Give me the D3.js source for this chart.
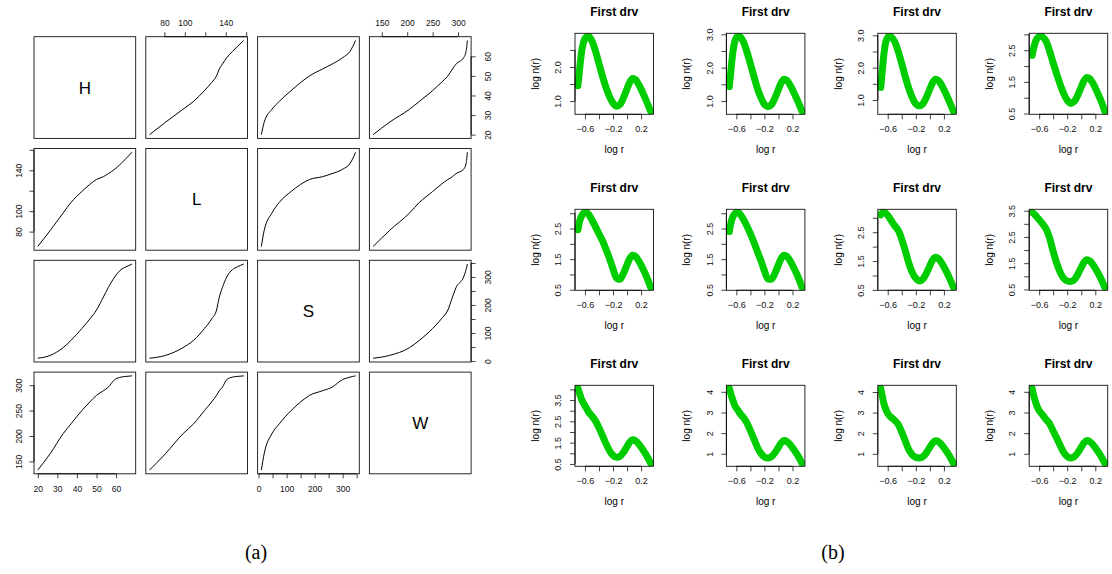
<!DOCTYPE html>
<html>
<head>
<meta charset="utf-8">
<script src="https://cdn.jsdelivr.net/npm/d3@7"></script>
<style>
  body { margin: 0; background: #fff; }
  text { font-family: "Liberation Sans", Arial, Helvetica, sans-serif; }
  text.caption { font-family: "Liberation Serif", "DejaVu Serif", serif; }
</style>
</head>
<body>
<div id="chart"></div>
<script>
// ---- (a) pairs plot: matched quantiles of the four variables ----
var varNames = ["H", "L", "S", "W"]
var hVals = [20.0, 26.3, 33.0, 37.0, 42.5, 46.6, 50.0, 53.5, 56.0, 59.3, 62.5, 65.0, 68.1]
var lVals = [65.5, 81.0, 98.3, 108.6, 119.2, 126.2, 131.0, 133.7, 136.7, 141.0, 146.5, 151.3, 157.6]
var sVals = [10, 20, 48, 74, 116, 150, 182, 228, 262, 300, 326, 336, 346]
var wVals = [133, 165, 204.7, 224, 250, 267, 280, 289, 296, 311, 315.8, 317.2, 318.3]

var hTicks = [20, 30, 40, 50, 60], hLabels = [20, 30, 40, 50, 60]
var lTicks = [80, 100, 120, 140, 160], lLabels = [80, 100, 140]
var sTicks = [0, 50, 100, 150, 200, 250, 300, 350], sLabels = [0, 100, 200, 300]
var wTicks = [150, 200, 250, 300], wLabels = [150, 200, 250, 300]

// ---- (b) "First drv" curves, log n(r) against log r ----
var logR = [-0.70, -0.68, -0.65, -0.62, -0.58, -0.55, -0.50, -0.45, -0.40, -0.35, -0.30, -0.25,
            -0.20, -0.15, -0.10, -0.05, 0.00, 0.04, 0.08, 0.12, 0.17, 0.22, 0.28, 0.335]
var fd1 = [1.45, 1.85, 2.40, 2.72, 2.88, 2.90, 2.76, 2.47, 2.10, 1.73, 1.40, 1.13, 0.94, 0.85, 0.90, 1.10, 1.36, 1.56, 1.66, 1.63, 1.47, 1.26, 0.98, 0.70]
var fd2 = [1.43, 1.85, 2.45, 2.80, 2.94, 2.93, 2.78, 2.48, 2.12, 1.74, 1.38, 1.10, 0.90, 0.83, 0.89, 1.09, 1.35, 1.55, 1.65, 1.62, 1.46, 1.25, 0.97, 0.69]
var fd3 = [1.39, 1.85, 2.50, 2.85, 2.97, 2.95, 2.80, 2.50, 2.12, 1.72, 1.36, 1.07, 0.88, 0.82, 0.88, 1.08, 1.34, 1.54, 1.64, 1.61, 1.45, 1.23, 0.94, 0.65]
var fd4 = [2.34, 2.55, 2.78, 2.90, 2.94, 2.92, 2.78, 2.47, 2.10, 1.75, 1.42, 1.13, 0.92, 0.82, 0.88, 1.08, 1.34, 1.54, 1.64, 1.60, 1.44, 1.21, 0.91, 0.57]
var fd5 = [2.46, 2.70, 2.90, 3.00, 3.03, 2.97, 2.78, 2.56, 2.33, 2.10, 1.82, 1.52, 1.18, 0.88, 0.84, 1.04, 1.32, 1.53, 1.63, 1.59, 1.43, 1.21, 0.91, 0.58]
var fd6 = [2.40, 2.66, 2.88, 2.99, 3.03, 2.98, 2.80, 2.58, 2.33, 2.05, 1.75, 1.45, 1.12, 0.85, 0.84, 1.04, 1.32, 1.53, 1.63, 1.59, 1.43, 1.21, 0.91, 0.58]
var fd7 = [3.10, 3.17, 3.19, 3.14, 3.02, 2.90, 2.72, 2.56, 2.25, 1.86, 1.43, 1.10, 0.90, 0.81, 0.87, 1.07, 1.34, 1.54, 1.63, 1.59, 1.43, 1.21, 0.91, 0.59]
var fd8 = [3.44, 3.40, 3.32, 3.22, 3.10, 3.00, 2.80, 2.45, 1.95, 1.50, 1.15, 0.92, 0.82, 0.80, 0.87, 1.07, 1.34, 1.54, 1.63, 1.59, 1.43, 1.21, 0.91, 0.58]
var fd9 = [4.05, 3.85, 3.55, 3.35, 3.12, 2.95, 2.75, 2.52, 2.20, 1.83, 1.45, 1.12, 0.90, 0.81, 0.86, 1.05, 1.32, 1.53, 1.63, 1.59, 1.42, 1.19, 0.88, 0.53]
var fd10 = [4.17, 3.92, 3.60, 3.32, 3.12, 2.96, 2.76, 2.50, 2.12, 1.72, 1.32, 1.02, 0.85, 0.80, 0.86, 1.05, 1.32, 1.53, 1.64, 1.60, 1.43, 1.20, 0.89, 0.54]
var fd11 = [4.18, 3.85, 3.38, 3.10, 2.87, 2.77, 2.62, 2.42, 2.05, 1.62, 1.20, 0.95, 0.83, 0.80, 0.86, 1.05, 1.32, 1.53, 1.64, 1.60, 1.43, 1.20, 0.89, 0.54]
var fd12 = [4.17, 3.85, 3.50, 3.22, 3.00, 2.88, 2.66, 2.45, 2.10, 1.76, 1.40, 1.07, 0.87, 0.80, 0.86, 1.05, 1.32, 1.53, 1.64, 1.60, 1.43, 1.20, 0.89, 0.54]

var xTicks = [-0.6, -0.4, -0.2, 0, 0.2], xLabels = [-0.6, -0.2, 0.2]
var ticksA = [1, 1.5, 2, 2.5], labelsA = [1, 2]
var ticksB = [1, 1.5, 2, 2.5, 3], labelsB = [1, 2, 3]
var ticksC = [0.5, 1, 1.5, 2, 2.5, 3], labelsC = [0.5, 1.5, 2.5]
var ticksD = [0.5, 1, 1.5, 2, 2.5, 3, 3.5], labelsD = [0.5, 1.5, 2.5, 3.5]
var ticksE = [0.5, 1, 1.5, 2, 2.5, 3, 3.5, 4], labelsE = [0.5, 1.5, 2.5, 3.5]
var ticksF = [1, 2, 3, 4], labelsF = [1, 2, 3, 4]

var curves = [fd1, fd2, fd3, fd4, fd5, fd6, fd7, fd8, fd9, fd10, fd11, fd12]
var yTickSets = [ticksA, ticksB, ticksB, ticksC, ticksC, ticksC, ticksC, ticksD, ticksE, ticksF, ticksF, ticksF]
var yLabelSets = [labelsA, labelsB, labelsB, labelsC, labelsC, labelsC, labelsC, labelsD, labelsE, labelsF, labelsF, labelsF]

var svg = d3.select("#chart").append("svg")
    .attr("width", 1112)
    .attr("height", 574)

// R-style scale: data range padded by 4% on both sides
function padScale(vals, range) {
  var e = d3.extent(vals), d = (e[1] - e[0]) * 0.04
  return d3.scaleLinear().domain([e[0] - d, e[1] + d]).range(range)
}

// axis with the line running only from first to last tick, labels parallel to the axis
function rAxis(g, side, scale, ticks, labels, fmt, tick, off, size) {
  var gen = {top: d3.axisTop, bottom: d3.axisBottom, left: d3.axisLeft, right: d3.axisRight}[side]
  g.call(gen(scale).tickValues(ticks).tickSizeInner(tick).tickSizeOuter(0)
      .tickFormat(function(d) { return labels.indexOf(d) >= 0 ? fmt(d) : "" }))
  g.attr("font-family", null).attr("font-size", size).attr("color", "#111")
  var a = scale(ticks[0]), b = scale(ticks[ticks.length - 1])
  g.select(".domain").attr("d", side == "top" || side == "bottom" ? "M" + a + ",0H" + b : "M0," + a + "V" + b)
  g.selectAll(".tick line").attr("stroke-width", 0.8)
  var t = g.selectAll(".tick text").attr("dy", "0.35em").attr("text-anchor", "middle")
  if (side == "top") t.attr("y", -off)
  if (side == "bottom") t.attr("y", off)
  if (side == "left") t.attr("x", 0).attr("y", -off).attr("transform", "rotate(-90)")
  if (side == "right") t.attr("x", 0).attr("y", off).attr("transform", "rotate(-90)")
}

// ---------- panel (a) ----------
var pairVals = [hVals, lVals, sVals, wVals]
var pairTicks = [hTicks, lTicks, sTicks, wTicks]
var pairLabels = [hLabels, lLabels, sLabels, wLabels]
var cell = 101.7, pitch = 111.8, ax0 = 34, ay0 = 36.7

var sx = pairVals.map(function(v, j) { return padScale(v, [ax0 + j * pitch, ax0 + j * pitch + cell]) })
var sy = pairVals.map(function(v, i) { return padScale(v, [ay0 + i * pitch + cell, ay0 + i * pitch]) })

var pairs = svg.append("g")
var intFmt = d3.format("d")

for (var i = 0; i < 4; i++) {
  for (var j = 0; j < 4; j++) {
    var x0 = ax0 + j * pitch, y0 = ay0 + i * pitch
    if (i == j) {
      pairs.append("text")
        .attr("x", x0 + cell / 2)
        .attr("y", y0 + cell / 2)
        .attr("dy", "0.35em")
        .attr("text-anchor", "middle")
        .attr("font-size", 17)
        .attr("fill", "#000")
        .text(varNames[i])
    } else {
      var pts = d3.range(hVals.length).map(function(k) { return [pairVals[j][k], pairVals[i][k]] })
      var line = d3.line()
          .x(function(d) { return sx[j](d[0]) })
          .y(function(d) { return sy[i](d[1]) })
          .curve(d3.curveMonotoneX)
      pairs.append("path")
        .attr("d", line(pts))
        .attr("fill", "none")
        .attr("stroke", "#000")
        .attr("stroke-width", 1)
    }
    pairs.append("rect")
      .attr("x", x0).attr("y", y0)
      .attr("width", cell).attr("height", cell)
      .attr("fill", "none")
      .attr("stroke", "#111")
      .attr("stroke-width", 0.9)
  }
}

// axes alternate around the matrix like R's pairs()
for (var k = 0; k < 4; k++) {
  if (k % 2 == 1) {
    rAxis(pairs.append("g").attr("transform", "translate(0," + ay0 + ")"), "top", sx[k], pairTicks[k], pairLabels[k], intFmt, 4.5, 13.5, 8.5)
    rAxis(pairs.append("g").attr("transform", "translate(" + ax0 + ",0)"), "left", sy[k], pairTicks[k], pairLabels[k], intFmt, 4.5, 14.5, 8.5)
  } else {
    rAxis(pairs.append("g").attr("transform", "translate(0," + (ay0 + 3 * pitch + cell) + ")"), "bottom", sx[k], pairTicks[k], pairLabels[k], intFmt, 4.5, 15.5, 8.5)
    rAxis(pairs.append("g").attr("transform", "translate(" + (ax0 + 3 * pitch + cell) + ",0)"), "right", sy[k], pairTicks[k], pairLabels[k], intFmt, 4.5, 16.5, 8.5)
  }
}

// ---------- panel (b) ----------
var bx0 = 575, bpx = 151.4, by0 = 33.3, bpy = 176, bw = 78.5, bh = 81
var drv = svg.append("g")
var xFmt = d3.format(".1f")

curves.forEach(function(vals, n) {
  var r = Math.floor(n / 4), c = n % 4
  var left = bx0 + c * bpx, top = by0 + r * bpy
  var x = padScale(logR, [left, left + bw])
  var y = padScale(vals, [top + bh, top])
  var ticks = yTickSets[n]
  var yFmt = ticks.every(function(t) { return t % 1 == 0 }) ? d3.format("d") : d3.format(".1f")

  drv.append("clipPath").attr("id", "clip" + n)
    .append("rect").attr("x", left).attr("y", top).attr("width", bw).attr("height", bh)

  var line = d3.line()
      .x(function(d, k) { return x(logR[k]) })
      .y(function(d) { return y(d) })
      .curve(d3.curveMonotoneX)

  drv.append("path")
    .attr("d", line(vals))
    .attr("clip-path", "url(#clip" + n + ")")
    .attr("fill", "none")
    .attr("stroke", "#00CD00")
    .attr("stroke-width", 7)
    .attr("stroke-linecap", "round")
    .attr("stroke-linejoin", "round")

  drv.append("rect")
    .attr("x", left).attr("y", top)
    .attr("width", bw).attr("height", bh)
    .attr("fill", "none")
    .attr("stroke", "#111")
    .attr("stroke-width", 0.9)

  rAxis(drv.append("g").attr("transform", "translate(0," + (top + bh) + ")"), "bottom", x, xTicks, xLabels, xFmt, 5, 15, 9)
  rAxis(drv.append("g").attr("transform", "translate(" + left + ",0)"), "left", y, ticks, yLabelSets[n], yFmt, 5, 17, 9)

  drv.append("text")
    .attr("x", left + bw / 2).attr("y", top - 17)
    .attr("text-anchor", "middle")
    .attr("font-size", 12)
    .attr("font-weight", "bold")
    .text("First drv")

  drv.append("text")
    .attr("x", left + bw / 2).attr("y", top + bh + 38.5)
    .attr("text-anchor", "middle")
    .attr("font-size", 10)
    .text("log r")

  drv.append("text")
    .attr("transform", "translate(" + (left - 36) + "," + (top + bh / 2) + ") rotate(-90)")
    .attr("text-anchor", "middle")
    .attr("font-size", 10)
    .text("log n(r)")
})

// captions
svg.append("text")
  .attr("class", "caption")
  .attr("x", 256).attr("y", 552).attr("dy", "0.35em")
  .attr("text-anchor", "middle")
  .attr("font-size", 20)
  .text("(a)")

svg.append("text")
  .attr("class", "caption")
  .attr("x", 833).attr("y", 552).attr("dy", "0.35em")
  .attr("text-anchor", "middle")
  .attr("font-size", 20)
  .text("(b)")
</script>
</body>
</html>
